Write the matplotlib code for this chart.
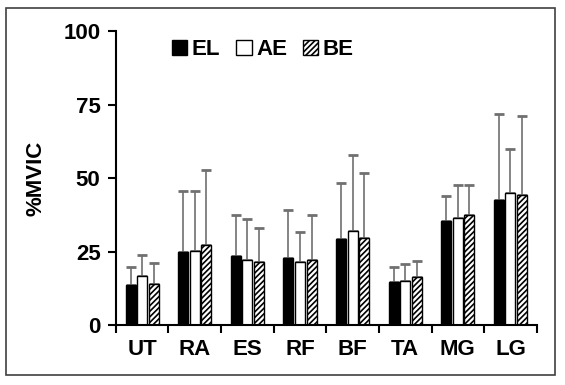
import numpy as np
import matplotlib.pyplot as plt
from matplotlib.patches import Rectangle, Patch

plt.rcParams['font.family'] = ['Liberation Sans', 'DejaVu Sans']
plt.rcParams['font.weight'] = 'bold'
plt.rcParams['hatch.linewidth'] = 1.2

muscles = ['UT', 'RA', 'ES', 'RF', 'BF', 'TA', 'MG', 'LG']
groups = ['EL', 'AE', 'BE']
el_mean = [13.6, 24.7, 23.4, 22.9, 29.1, 14.7, 35.3, 42.5]
el_top = [19.8, 45.5, 37.5, 39.1, 48.3, 19.6, 43.9, 71.7]
ae_mean = [16.6, 25.1, 22.0, 21.4, 32.1, 15.1, 36.5, 44.8]
ae_top = [23.8, 45.7, 36.1, 31.5, 57.7, 20.9, 47.6, 60.0]
be_mean = [13.9, 27.1, 21.4, 22.1, 29.7, 16.3, 37.3, 44.4]
be_top = [21.1, 52.8, 33.0, 37.3, 51.6, 21.7, 47.8, 71.0]

fig = plt.figure(figsize=(5.65, 3.85), dpi=100)
ax = fig.add_axes([0.205, 0.156, 0.745, 0.763])

x = np.arange(len(muscles))
w = 0.19
step = 0.22
styles = [dict(color='black', edgecolor='black'),
          dict(color='white', edgecolor='black'),
          dict(color='white', edgecolor='black', hatch='//////')]
series = [(el_mean, el_top), (ae_mean, ae_top), (be_mean, be_top)]

for i, ((mean, top), st) in enumerate(zip(series, styles)):
    mean = np.array(mean)
    err = np.array(top) - mean
    pos = x + (i - 1) * step
    ax.bar(pos, mean, w, linewidth=1.0, zorder=2, **st)
    ax.errorbar(pos, mean, yerr=[np.zeros_like(err), err], fmt='none',
                ecolor='#707070', elinewidth=1.2, capsize=3.5, capthick=2, zorder=1)

ax.set_xlim(-0.5, len(muscles) - 0.5)
ax.set_ylim(0, 100)
ax.set_yticks([0, 25, 50, 75, 100])
ax.tick_params(axis='y', labelsize=16, direction='out', length=6, width=1.5, pad=5)
ax.set_xticks(np.arange(-0.5, len(muscles)), minor=False)
ax.set_xticklabels([])
ax.set_xticks(x, minor=True)
ax.set_xticklabels(muscles, minor=True, fontsize=16)
ax.tick_params(axis='x', which='major', direction='out', length=6, width=1.5)
ax.tick_params(axis='x', which='minor', length=0, pad=10)
for s in ['top', 'right']:
    ax.spines[s].set_visible(False)
for s in ['left', 'bottom']:
    ax.spines[s].set_linewidth(1.5)
ax.set_ylabel('%MVIC', fontsize=16, fontweight='bold', labelpad=12)

handles = [Patch(facecolor=st['color'], edgecolor='black', hatch=st.get('hatch'))
           for st in styles]
fig.legend(handles, groups, loc='upper center', bbox_to_anchor=(0.465, 0.95),
           ncol=3, frameon=False, fontsize=16, handlelength=0.7, handleheight=0.7,
           handletextpad=0.2, columnspacing=0.7)

fig.patches.append(Rectangle((6 / 565, 1 - 375 / 385), 549 / 565, 367 / 385,
                             transform=fig.transFigure, fill=False,
                             edgecolor='#404040', linewidth=1.2))

fig.savefig('out.png', dpi=100)
